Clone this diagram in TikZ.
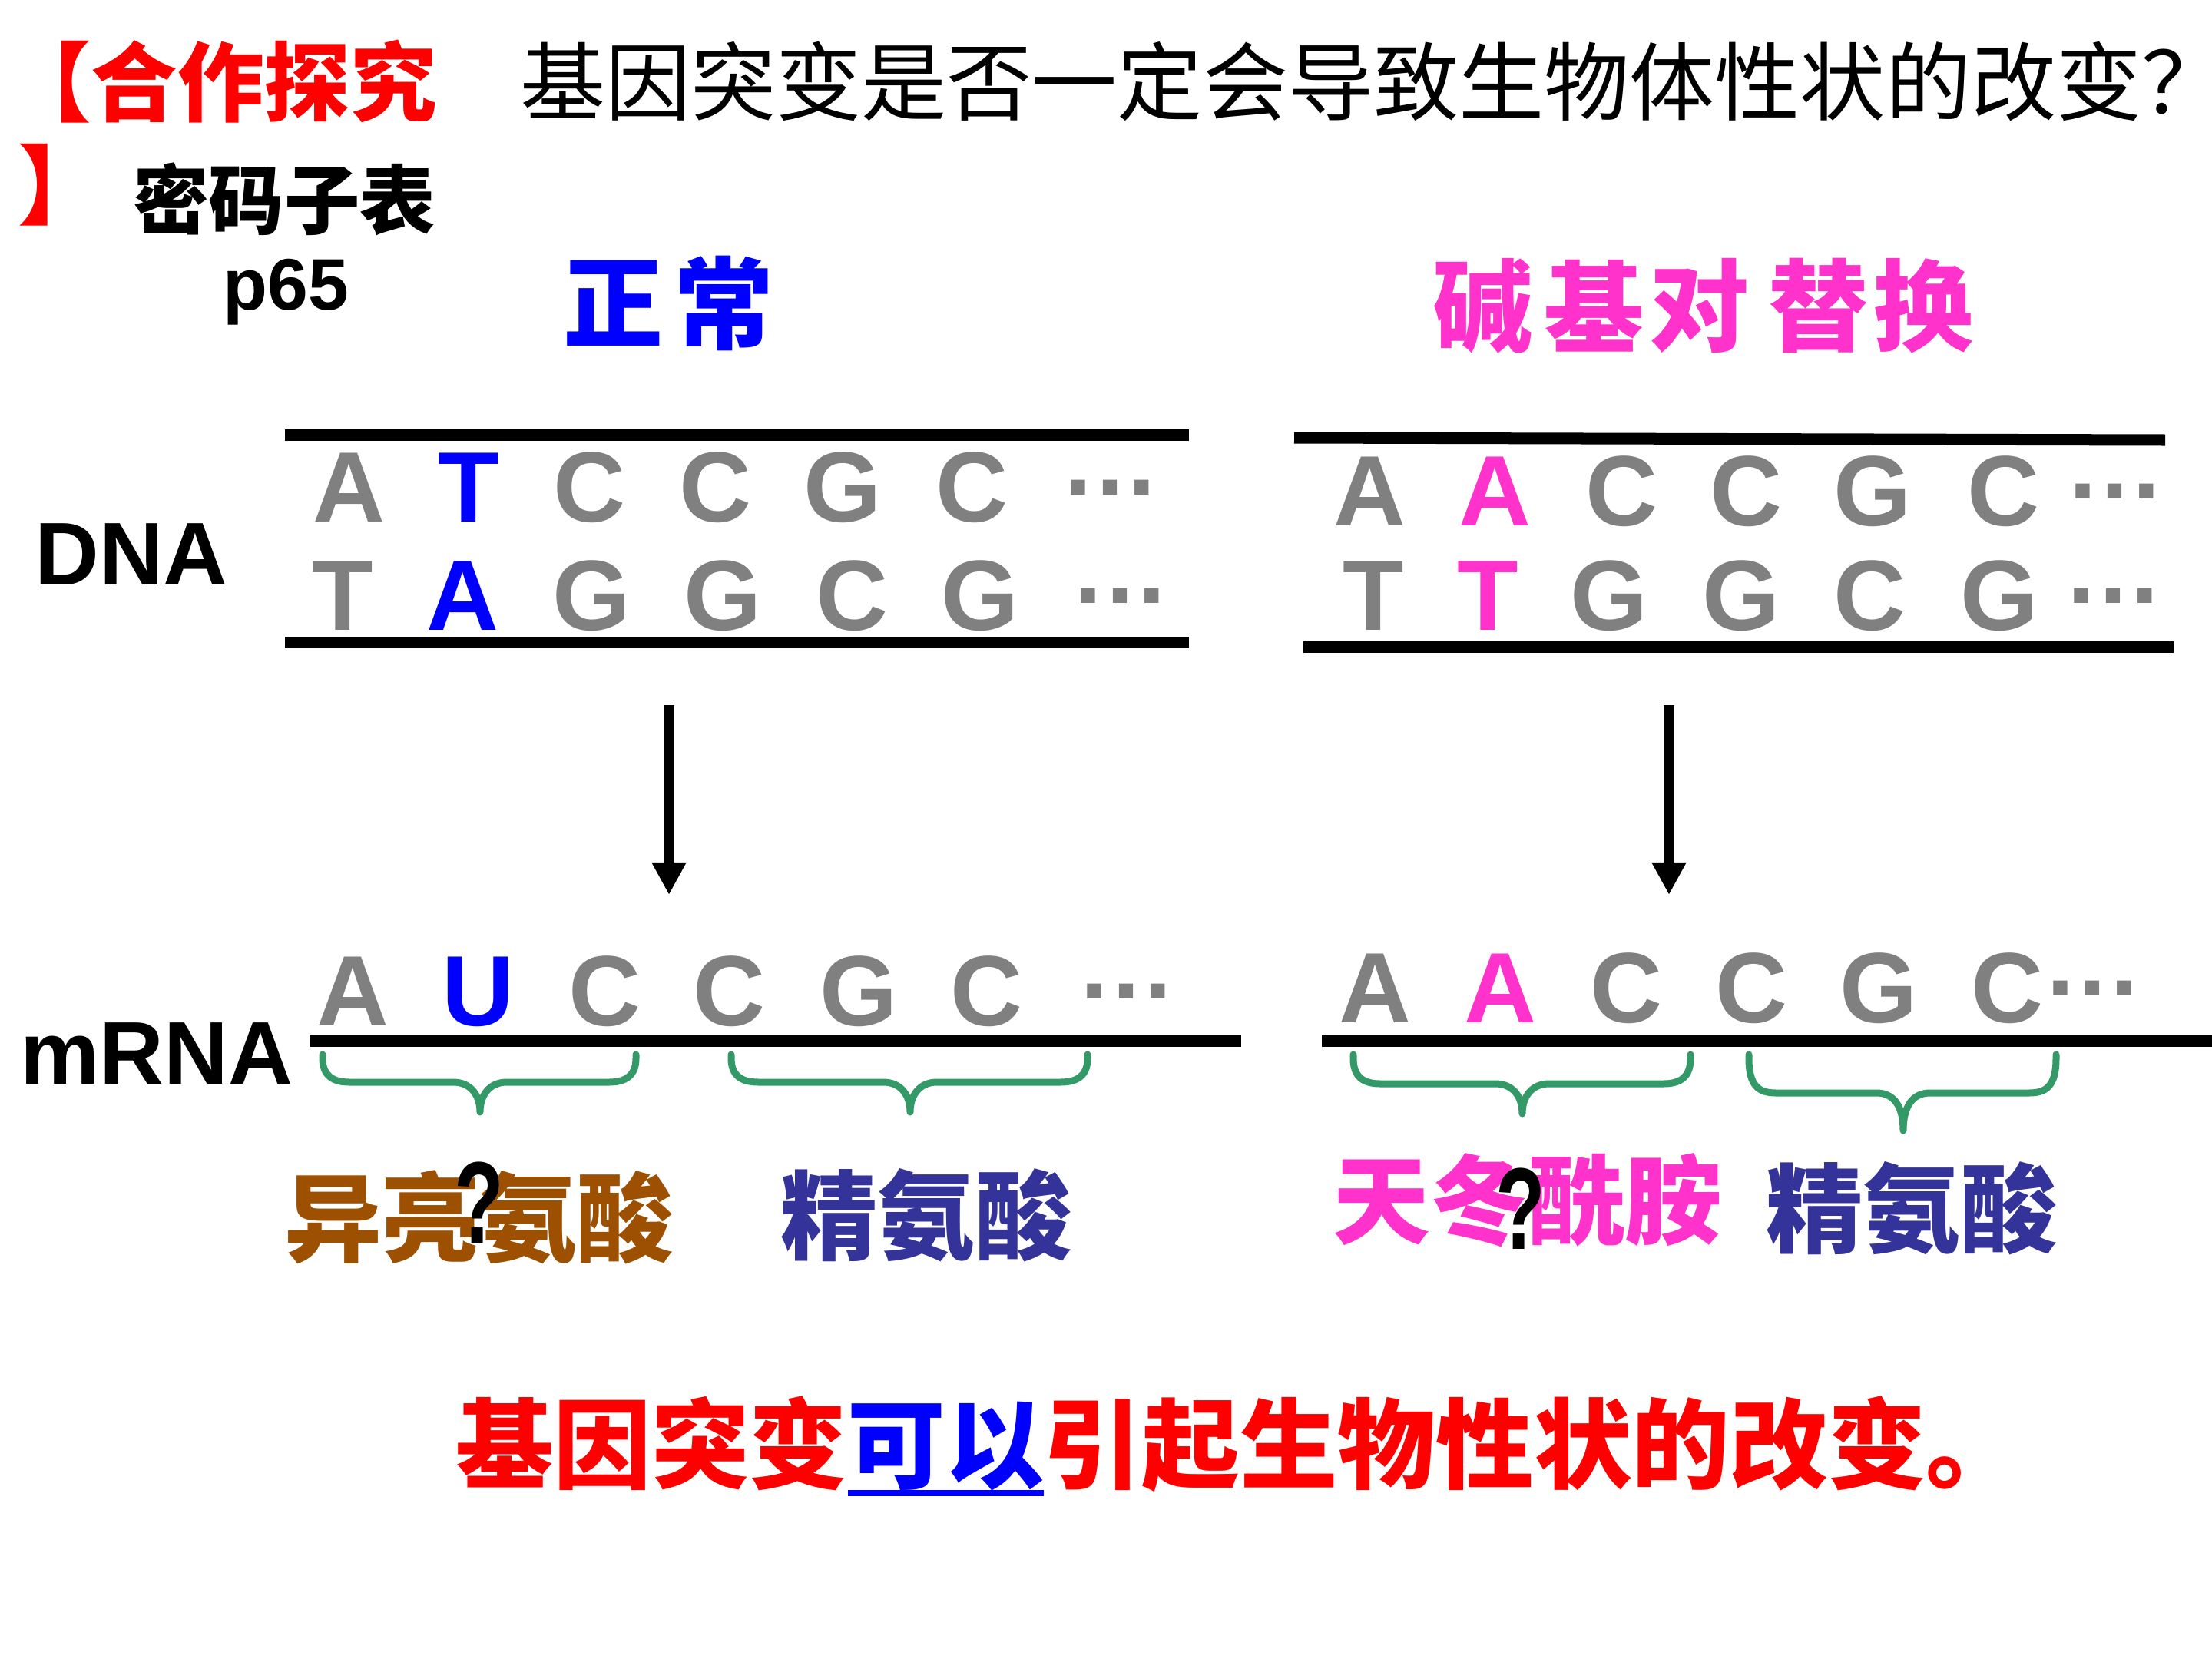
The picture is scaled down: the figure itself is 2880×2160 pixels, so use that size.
\documentclass[tikz,border=0pt]{standalone}
\usepackage{fontspec}
\setmainfont{Liberation Sans}
\newfontfamily\cjk{Noto Sans CJK SC}
\usetikzlibrary{arrows.meta}
\definecolor{redc}{HTML}{FF0000}
\definecolor{bluec}{HTML}{0000FF}
\definecolor{pinkc}{HTML}{FF33CC}
\definecolor{grayc}{HTML}{808080}
\definecolor{brownc}{HTML}{9C5000}
\definecolor{navyc}{HTML}{333399}
\definecolor{greenc}{HTML}{339966}
\tikzset{
  base/.style={font=\fontsize{37}{40}\selectfont\bfseries, text=grayc},
  dotsty/.style={font=\fontsize{37}{40}\selectfont\bfseries, text=grayc},
  lbl/.style={font=\fontsize{33}{38}\selectfont\bfseries, text=black},
  hanzi/.style={font=\cjk\bfseries\fontsize{#1}{#1}\selectfont},
  hanzireg/.style={font=\cjk\fontsize{#1}{#1}\selectfont},
  strand/.style={line width=0.15cm, line cap=butt},
  codonline/.style={draw=greenc, line width=0.09cm, line cap=round, line join=round},
  flow/.style={line width=0.14cm, -{Triangle[length=0.42cm, width=0.42cm]}},
  qmark/.style={font=\fontsize{43}{46}\selectfont\bfseries, text=black},
}
% x1, x2, x of tip, y of horizontal part, y of tip
\newcommand\codonbrace[5]{%
  \draw[codonline] (#1,1373) -- (#1,1378)
    .. controls (#1,{#4-9}) and ({#1+13},#4) .. ({#1+35},#4)
    -- ({#3-35},#4)
    .. controls ({#3-13},#4) and (#3,{#4+16}) .. (#3,#5)
    .. controls (#3,{#4+16}) and ({#3+13},#4) .. ({#3+35},#4)
    -- ({#2-35},#4)
    .. controls ({#2-13},#4) and (#2,{#4-9}) .. (#2,1378) -- (#2,1373);}
\begin{document}
\begin{tikzpicture}[x=0.01cm, y=-0.01cm, every node/.style={inner sep=0pt, outer sep=0pt}]
\useasboundingbox[fill=white] (0,0) rectangle (2880,2160);

% ---- title ----
\node[hanzi=32, text=redc, anchor=west] (t1) at (6,106) {【合作探究};
\node[hanzireg=31.6, text=black, anchor=west] (t2) at (677,106) {基因突变是否一定会导致生物体性状的改变\makebox[0.45em][l]{？}};
\node[hanzi=32, text=redc, anchor=west] (t3) at (24,241) {】};
\node[hanzi=28, text=black] (t4) at (370,259) {密码子表};
\node[font=\fontsize{27}{30}\selectfont\bfseries, anchor=base] (t5) at (372,403) {p65};

% ---- headings ----
\node[hanzi=37, text=bluec] (n1) at (799,395) {正};
\node[hanzi=37, text=bluec] (n2) at (943,395) {常};
\foreach \x/\t [count=\i] in {1931/碱,2076/基,2213/对,2368/替,2505/换}
  \node[hanzi=37, text=pinkc] (s\i) at (\x,398) {\t};

% ---- labels ----
\node[lbl] (dna) at (171,722) {DNA};
\node[lbl] (mrna) at (204,1372) {mRNA};

% ---- DNA strands ----
\draw[strand] (371,566) -- (1548,566);
\draw[strand] (371,836) -- (1548,836);
\draw[strand] (1685,570) -- (2819,573);
\draw[strand] (1697,842) -- (2830,842);

\foreach \x/\t/\c [count=\i] in {454/A/grayc,610/T/bluec,767/C/grayc,931/C/grayc,1097/G/grayc,1265/C/grayc}
  \node[base, text=\c] (la\i) at (\x,635) {\t};
\node[dotsty] (lad) at (1446,635) {…};
\foreach \x/\t/\c [count=\i] in {446/T/grayc,602/A/bluec,770/G/grayc,941/G/grayc,1109/C/grayc,1276/G/grayc}
  \node[base, text=\c] (lb\i) at (\x,776) {\t};
\node[dotsty] (lbd) at (1459,776) {…};

\foreach \x/\t/\c [count=\i] in {1783/A/grayc,1946/A/pinkc,2111/C/grayc,2273/C/grayc,2438/G/grayc,2608/C/grayc}
  \node[base, text=\c] (ra\i) at (\x,640) {\t};
\node[dotsty] (rad) at (2754,640) {…};
\foreach \x/\t/\c [count=\i] in {1788/T/grayc,1937/T/pinkc,2095/G/grayc,2267/G/grayc,2434/C/grayc,2603/G/grayc}
  \node[base, text=\c] (rb\i) at (\x,776) {\t};
\node[dotsty] (rbd) at (2752,776) {…};

% ---- arrows ----
\coordinate (aLs) at (871,918);
\coordinate (aLe) at (871,1165);
\coordinate (aRs) at (2173,918);
\coordinate (aRe) at (2173,1165);
\draw[flow] (aLs) -- (aLe);
\draw[flow] (aRs) -- (aRe);

% ---- mRNA ----
\foreach \x/\t/\c [count=\i] in {459/A/grayc,622/U/bluec,787/C/grayc,949/C/grayc,1118/G/grayc,1284/C/grayc}
  \node[base, text=\c] (ml\i) at (\x,1291) {\t};
\node[dotsty] (mld) at (1467,1291) {…};
\foreach \x/\t/\c [count=\i] in {1790/A/grayc,1953/A/pinkc,2117/C/grayc,2280/C/grayc,2446/G/grayc,2613/C/grayc}
  \node[base, text=\c] (mr\i) at (\x,1287) {\t};
\node[dotsty] (mrd) at (2725,1287) {…};

\draw[strand] (404,1355) -- (1616,1355);
\draw[strand] (1721,1355) -- (2880,1355);

% ---- codon braces ----
\codonbrace{420}{828}{625}{1409}{1448}
\codonbrace{952}{1416}{1185}{1409}{1448}
\codonbrace{1762}{2201}{1982}{1411}{1450}
\codonbrace{2277}{2677}{2478}{1423}{1472}

% ---- amino acids ----
\node[hanzi=36, text=brownc] (aa1) at (624,1585) {异亮氨酸};
\node[hanzi=36, text=navyc] (aa2) at (1206,1582) {精氨酸};
\node[hanzi=36, text=pinkc] (aa3) at (1989,1563) {天冬酰胺};
\node[hanzi=36, text=navyc] (aa4) at (2489,1573) {精氨酸};
\node[qmark] (q1) at (624,1566) {\scalebox{0.7}[1]{?}};
\node[qmark] (q2) at (1980,1574) {\scalebox{0.7}[1]{?}};

% ---- conclusion ----
\node[hanzi=36.3, text=redc, anchor=west] (c1) at (593,1879) {基因突变};
\node[hanzi=36.3, text=bluec, anchor=base west] (c2) at (c1.base east) {可以};
\node[hanzi=36.3, text=redc, anchor=base west] (c3) at (c2.base east) {引起生物性状的改变。};
\draw[bluec, line width=0.08cm] ([yshift=-0.03cm]c2.south west) -- ([yshift=-0.03cm]c2.south east);
\end{tikzpicture}
\end{document}
